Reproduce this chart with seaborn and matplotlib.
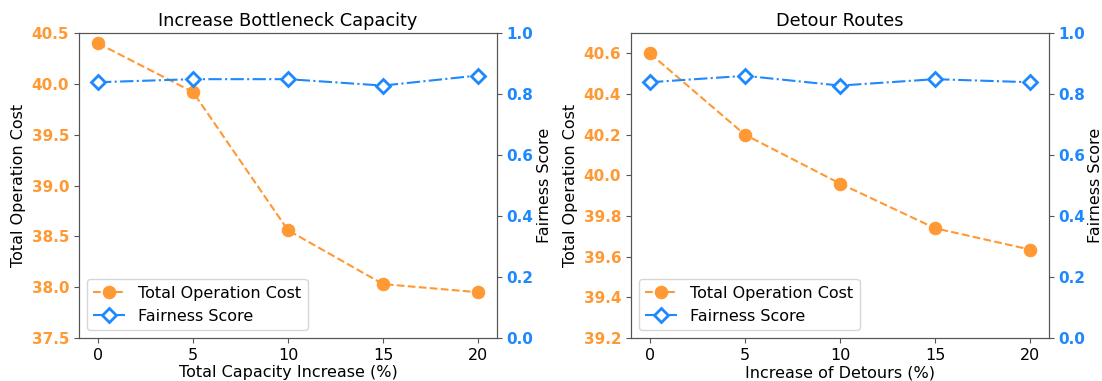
import pandas as pd
import matplotlib.pyplot as plt
import seaborn as sns

# values
capacity_pct = [0, 5, 10, 15, 20]
capacity_cost = [40.40, 39.92, 38.56, 38.03, 37.95]
capacity_fair = [0.839, 0.849, 0.849, 0.828, 0.861]

detour_pct = [0, 5, 10, 15, 20]
detour_cost = [40.60, 40.20, 39.96, 39.74, 39.635]
detour_fair = [0.839, 0.860, 0.828, 0.849, 0.839]

orange = '#FF9933'
blue = '#1E88FF'

plt.rcParams['font.family'] = ['DejaVu Sans']

fig = plt.figure(figsize=(11.02, 3.81), dpi=100)
ax1 = fig.add_axes([0.0717, 0.113, 0.3793, 0.800])
ax2 = fig.add_axes([0.5726, 0.113, 0.3793, 0.800])


def panel(ax, x, cost, fair, title, xlabel, ylim, yticks):
    df = pd.DataFrame({'x': x, 'cost': cost, 'fair': fair})
    sns.lineplot(data=df, x='x', y='cost', ax=ax, color=orange, linestyle='--',
                 marker='o', markersize=9, markeredgecolor=orange, linewidth=1.5,
                 label='Total Operation Cost', legend=False)
    axr = ax.twinx()
    sns.lineplot(data=df, x='x', y='fair', ax=axr, color=blue, linestyle='-.',
                 marker='D', markersize=7, markerfacecolor='white', markeredgecolor=blue,
                 markeredgewidth=2, linewidth=1.5, label='Fairness Score', legend=False)
    ax.set_ylim(*ylim)
    ax.set_yticks(yticks)
    axr.set_ylim(0, 1)
    axr.set_yticks([0, 0.2, 0.4, 0.6, 0.8, 1.0])
    ax.set_xticks(x)
    ax.set_title(title, fontsize=12.8, pad=5)
    ax.set_xlabel(xlabel, fontsize=11.5, labelpad=2)
    ax.set_ylabel('Total Operation Cost', fontsize=11.5)
    axr.set_ylabel('Fairness Score', fontsize=11.5, labelpad=2)
    ax.tick_params(axis='x', labelsize=11.5, color='#555555')
    ax.tick_params(axis='y', labelsize=11, labelcolor=orange, color='#555555')
    axr.tick_params(axis='y', labelsize=11, labelcolor=blue, color='#555555')
    for t in ax.get_yticklabels():
        t.set_fontweight('bold')
    for t in axr.get_yticklabels():
        t.set_fontweight('bold')
    for a in (ax, axr):
        for s in a.spines.values():
            s.set_color('#555555')
    h1, l1 = ax.get_legend_handles_labels()
    h2, l2 = axr.get_legend_handles_labels()
    axr.legend(h1 + h2, l1 + l2, loc='lower left', fontsize=11.5, handlelength=2.0)


panel(ax1, capacity_pct, capacity_cost, capacity_fair, 'Increase Bottleneck Capacity',
      'Total Capacity Increase (%)', (37.5, 40.5), [37.5, 38.0, 38.5, 39.0, 39.5, 40.0, 40.5])
panel(ax2, detour_pct, detour_cost, detour_fair, 'Detour Routes',
      'Increase of Detours (%)', (39.2, 40.7), [39.2, 39.4, 39.6, 39.8, 40.0, 40.2, 40.4, 40.6])

fig.savefig('out.png', dpi=100)
